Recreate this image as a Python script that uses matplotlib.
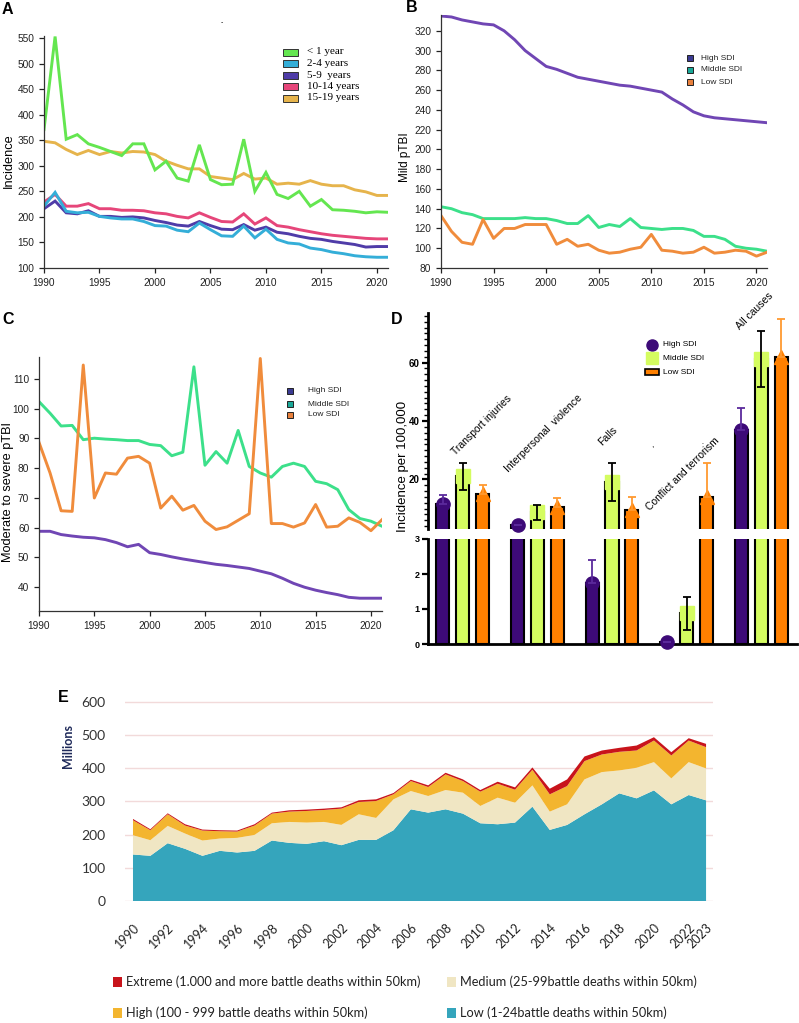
import numpy as np
import matplotlib
matplotlib.use("Agg")
import matplotlib.pyplot as plt
from matplotlib.patches import Rectangle
from matplotlib.lines import Line2D
from matplotlib.ticker import MultipleLocator

plt.rcParams['font.family'] = ['Liberation Sans', 'DejaVu Sans']

years = np.arange(1990, 2022)

# ---- panel A: incidence by age group
a_lt1 = [371, 553, 352, 361, 343, 336, 328, 320, 343, 343, 292, 309, 276, 270, 341, 273,
         263, 264, 352, 250, 287, 244, 236, 250, 221, 234, 214, 213, 211, 208, 210, 209]
a_2_4 = [221, 248, 211, 208, 209, 201, 198, 196, 196, 191, 183, 182, 174, 171, 188, 175,
         163, 162, 182, 159, 176, 156, 149, 147, 139, 136, 131, 128, 124, 122, 121, 121]
a_5_9 = [216, 231, 208, 206, 212, 201, 201, 199, 200, 198, 193, 189, 184, 182, 191, 183,
         176, 175, 185, 174, 180, 170, 167, 162, 158, 156, 152, 149, 146, 141, 142, 142]
a_10_14 = [229, 244, 221, 221, 226, 216, 216, 213, 213, 212, 208, 206, 201, 198, 208, 199,
           191, 190, 206, 186, 198, 183, 180, 175, 171, 167, 164, 162, 160, 158, 157, 157]
a_15_19 = [348, 345, 332, 322, 330, 322, 328, 325, 328, 327, 322, 309, 301, 294, 294, 279,
           276, 273, 285, 274, 276, 264, 266, 264, 271, 264, 261, 261, 253, 249, 242, 242]
a_labels = ["< 1 year", "2-4 years", "5-9  years", "10-14 years", "15-19 years"]
a_colors = ['#64e650', '#34aed8', '#4f3ca8', '#e6467a', '#e6b44c']

# ---- panel B: mild pTBI by SDI
b_high = [335, 334, 331, 329, 327, 326, 320, 311, 300, 292, 284, 281, 277, 273, 271, 269,
          267, 265, 264, 262, 260, 258, 251, 245, 238, 234, 232, 231, 230, 229, 228, 227]
b_mid = [142, 140, 136, 134, 130, 130, 130, 130, 131, 130, 130, 128, 125, 125, 133, 121,
         124, 122, 130, 121, 120, 119, 120, 120, 118, 112, 112, 109, 102, 100, 99, 97]
b_low = [133, 117, 106, 104, 129, 110, 120, 120, 124, 124, 124, 104, 109, 102, 104, 98,
         95, 96, 99, 101, 114, 98, 97, 95, 96, 101, 95, 96, 98, 97, 92, 96]

# ---- panel C: moderate to severe pTBI by SDI
c_high = [58.8, 58.8, 57.7, 57.2, 56.8, 56.6, 56.0, 55.0, 53.6, 54.4, 51.6, 51.0, 50.2, 49.5,
          48.9, 48.3, 47.7, 47.3, 46.8, 46.3, 45.4, 44.5, 43.0, 41.3, 40.0, 39.0, 38.2, 37.5,
          36.6, 36.3, 36.3, 36.3]
c_mid = [102.4, 98.5, 94.2, 94.4, 89.6, 90.1, 89.8, 89.6, 89.3, 89.3, 88.0, 87.6, 84.2, 85.4,
         114.1, 81.0, 85.6, 81.7, 92.7, 80.6, 78.4, 77.0, 80.6, 81.7, 80.6, 75.6, 74.8, 72.8,
         66.1, 63.1, 62.2, 60.5]
c_low = [88.7, 78.4, 65.7, 65.5, 114.7, 70.0, 78.4, 78.0, 83.4, 84.0, 81.7, 66.6, 70.6, 65.9,
         67.5, 62.2, 59.4, 60.3, 62.5, 64.7, 116.9, 61.4, 61.4, 60.2, 61.6, 67.8, 60.2, 60.5,
         63.3, 61.8, 59.0, 62.7]
sdi_labels = ["High SDI", "Middle SDI", "Low SDI"]
sdi_line_colors = ['#7046b4', '#3ce08a', '#f08c3c']
sdi_key_colors = ['#3b3b93', '#1aa898', '#e8803c']

# ---- panel D: incidence per 100,000 by cause
causes = ["Transport injuries", "Interpersonal  violence", "Falls",
          "Conflict and terrorism", "All causes"]
d_high = [11.5, 4.5, 1.75, 0.05, 37.0]
d_high_err = [3.0, 0.0, 0.65, 0.0, 7.5]
d_mid = [21.0, 8.75, 19.25, 0.875, 61.2]
d_mid_err = [4.7, 2.55, 6.5, 0.475, 9.5]
d_low = [15.0, 10.5, 9.5, 14.0, 62.0]
d_low_err = [3.0, 3.0, 4.3, 11.5, 13.0]
d_colors = ['#3d0a78', '#d4fc60', '#ff8000']
d_err_colors = ['#5b2a9c', 'black', '#ff9a30']

# ---- panel E: population exposed to conflict (millions)
e_years = np.arange(1990, 2024)
e_low = [140, 136, 174, 157, 136, 151, 146, 151, 182, 175, 172, 180, 168, 184, 184, 213, 276,
         266, 276, 263, 234, 231, 236, 284, 214, 229, 261, 291, 324, 309, 333, 291, 319, 303]
e_medium = [58, 47, 52, 46, 46, 37, 44, 48, 52, 63, 64, 58, 61, 77, 66, 93, 55,
            50, 58, 63, 52, 80, 60, 64, 55, 62, 105, 97, 69, 92, 85, 78, 99, 96]
e_high = [45, 30, 35, 24, 30, 22, 19, 28, 29, 31, 35, 36, 49, 37, 51, 15, 30,
          27, 47, 35, 43, 42, 39, 47, 52, 55, 55, 53, 56, 52, 65, 69, 65, 64]
e_extreme = [4, 3, 3, 4, 3, 3, 3, 4, 3, 4, 4, 4, 4, 5, 5, 4, 4,
             5, 5, 5, 5, 6, 7, 7, 17, 20, 14, 12, 12, 15, 10, 10, 7, 10]
e_labels = ["Extreme (1.000 and more battle deaths within 50km)",
            "High (100 - 999 battle deaths within 50km)",
            "Medium (25-99battle deaths within 50km)",
            "Low (1-24battle deaths within 50km)"]
e_colors = ['#c8141b', '#f3b52f', '#f0e6c3', '#35a5bc']

W, H = 799, 1023
fig = plt.figure(figsize=(W / 100, H / 100), dpi=100)


def box(l, t, r, b):
    return [l / W, 1 - b / H, (r - l) / W, (b - t) / H]


def fx(px):
    return px / W


def fy(py):
    return 1 - py / H


def line_axes(ax, ylo, yhi, ystep):
    ax.set_xlim(1990, 2021)
    ax.set_ylim(ylo, yhi)
    ax.set_xticks(np.arange(1990, 2021, 5))
    ax.set_yticks(np.arange(ystep * np.ceil(ylo / ystep), yhi, ystep))
    for s in ('top', 'right'):
        ax.spines[s].set_visible(False)
    for s in ('left', 'bottom'):
        ax.spines[s].set_color('#333333')
        ax.spines[s].set_linewidth(0.9)
    ax.tick_params(labelsize=7.3, colors='#222222', length=3.5, width=0.9)


# ---------------- A
axA = fig.add_axes(box(44, 36, 388, 268))
# draw order: orange, pink, purple, blue, green on top
for vals, col in [(a_15_19, a_colors[4]), (a_10_14, a_colors[3]), (a_5_9, a_colors[2]),
                  (a_2_4, a_colors[1]), (a_lt1, a_colors[0])]:
    axA.plot(years, vals, color=col, lw=2.1, solid_joinstyle='miter')
line_axes(axA, 100, 554, 50)
fig.text(fx(9), fy(161), "Incidence", rotation=90, ha='center', va='center', fontsize=9.2)
for i, (lab, col) in enumerate(zip(a_labels, a_colors)):
    yc = 52 + i * 11.5
    fig.add_artist(Rectangle((fx(283), fy(yc + 3.5)), 15 / W, 7 / H, transform=fig.transFigure,
                             facecolor=col, edgecolor='#333333', lw=0.7))
    fig.text(fx(307), fy(yc), lab, ha='left', va='center', fontsize=8,
             family=['Liberation Serif', 'DejaVu Serif'])
fig.text(fx(222), fy(23), "-", fontsize=5, ha='center', va='center')


def sdi_key(x_sq, x_txt, ys):
    for lab, col, yc in zip(sdi_labels, sdi_key_colors, ys):
        fig.add_artist(Rectangle((fx(x_sq), fy(yc + 3)), 6 / W, 6 / H, transform=fig.transFigure,
                                 facecolor=col, edgecolor='#222222', lw=0.7))
        fig.text(fx(x_txt), fy(yc), lab, ha='left', va='center', fontsize=6, color='#222222')


# ---------------- B
axB = fig.add_axes(box(441, 15, 767, 268))
for vals, col in zip([b_high, b_mid, b_low], sdi_line_colors):
    axB.plot(years, vals, color=col, lw=2.1)
line_axes(axB, 80, 336, 20)
fig.text(fx(405), fy(157), "Mild pTBI", rotation=90, ha='center', va='center', fontsize=8.5)
sdi_key(687, 701, [58, 70, 82])

# ---------------- C
axC = fig.add_axes(box(39, 357, 382, 611))
for vals, col in zip([c_high, c_mid, c_low], sdi_line_colors):
    axC.plot(years, vals, color=col, lw=2.1)
line_axes(axC, 32, 117.4, 10)
fig.text(fx(8), fy(492), "Moderate to severe pTBI", rotation=90, ha='center', va='center',
         fontsize=9.2)
sdi_key(287, 308, [391, 404, 415])

# ---------------- D (broken axis)
axDu = fig.add_axes(box(428, 313, 797, 529))
axDl = fig.add_axes(box(428, 539, 797, 644))
xg = np.arange(len(causes))
off, bw = 0.267, 0.175
series = [(d_high, d_high_err, 'o', False), (d_mid, d_mid_err, 's', True),
          (d_low, d_low_err, '^', False)]
for ax, lo, hi in [(axDu, 3, 77), (axDl, 0, 3)]:
    ax.set_xlim(-0.467, 4.48)
    ax.set_ylim(lo, hi)
    for k, (vals, errs, mk, sym) in enumerate(series):
        vals = np.array(vals)
        errs = np.array(errs)
        xs = xg + (k - 1) * off
        ax.bar(xs, vals, width=bw, color=d_colors[k], edgecolor='black', lw=1.5, zorder=2)
        lower = errs if sym else np.zeros_like(errs)
        ax.errorbar(xs, vals, yerr=[lower, errs], fmt='none', ecolor=d_err_colors[k],
                    elinewidth=1.3, capsize=3.2, capthick=1.3, zorder=4)
        m = (vals >= lo) & (vals < hi)
        ax.plot(xs[m], vals[m], ls='none', marker=mk, ms=9.5, color=d_colors[k],
                mec=d_colors[k], zorder=3, clip_on=False)
    ax.set_xticks([])
    for s in ('top', 'right'):
        ax.spines[s].set_visible(False)
    ax.spines['left'].set_linewidth(2)
    ax.tick_params(axis='y', labelsize=7, width=1.6, length=4, pad=2)
axDu.spines['bottom'].set_visible(False)
axDu.set_yticks([20, 40, 60])
axDu.yaxis.set_minor_locator(MultipleLocator(2))
axDu.tick_params(axis='y', which='minor', length=3, width=1)
axDl.set_yticks([0, 1, 2, 3])
axDl.spines['bottom'].set_linewidth(2)
for ax in (axDu, axDl):
    for t in ax.get_yticklabels():
        t.set_fontweight('bold')
        t.set_fontsize(7 if ax is axDu else 6.5)

cause_pos = [(-0.08, 27.6), (0.627, 22.0), (1.893, 31.0), (2.533, 8.6), (3.733, 70.7)]
for lab, (px, py) in zip(causes, cause_pos):
    axDu.text(px, py, lab, rotation=45, rotation_mode='anchor', ha='left', va='bottom',
              fontsize=7.5, clip_on=False)
fig.text(fx(652), fy(446), ",", fontsize=6, ha='center', va='center')
fig.text(fx(703), fy(444), "-", fontsize=4, ha='center', va='center')
fig.text(fx(403), fy(466), "Incidence per 100,000", rotation=90, ha='center', va='center',
         fontsize=9.5)
# legend D
fig.add_artist(Line2D([fx(652)], [fy(345)], marker='o', ms=8, color=d_colors[0], ls='none',
                      transform=fig.transFigure))
fig.add_artist(Line2D([fx(652)], [fy(358)], marker='s', ms=8, color=d_colors[1], ls='none',
                      transform=fig.transFigure))
fig.add_artist(Rectangle((fx(645), fy(375)), 14 / W, 6 / H, transform=fig.transFigure,
                         facecolor=d_colors[2], edgecolor='black', lw=1.2))
for lab, yc in zip(sdi_labels, [345, 358, 372]):
    fig.text(fx(663), fy(yc), lab, ha='left', va='center', fontsize=6)

# panel letters
for lab, px, py in [("A", 7, 9), ("B", 412, 8), ("C", 8, 320), ("D", 397, 320), ("E", 63, 698)]:
    fig.text(fx(px), fy(py), lab, ha='center', va='center', fontsize=11.5, fontweight='bold')

# ---------------- E
axE = fig.add_axes(box(125, 700, 713, 901))
axE.stackplot(e_years, e_low, e_medium, e_high, e_extreme,
              colors=[e_colors[3], e_colors[2], e_colors[1], e_colors[0]], lw=0, zorder=2)
axE.set_xlim(1989.54, 2023.4)
axE.set_ylim(0, 605)
axE.set_yticks(np.arange(0, 601, 100))
axE.yaxis.grid(True, color='#f2dada', lw=1)
axE.set_axisbelow(True)
for s in axE.spines.values():
    s.set_visible(False)
xt = list(range(1990, 2023, 2)) + [2023]
axE.set_xticks(xt)
axE.set_xticklabels([str(y) for y in xt], rotation=45, rotation_mode='anchor', ha='right',
                    va='top', family=['Lato', 'DejaVu Sans'], fontsize=9, color='#222222')
axE.tick_params(axis='x', length=0, pad=15)
axE.tick_params(axis='y', length=0, pad=14, labelsize=10, labelcolor='#333333')
for t in axE.get_yticklabels():
    t.set_family(['Lato', 'DejaVu Sans'])
fig.text(fx(68), fy(746), "Millions", rotation=90, ha='center', va='center', fontsize=9,
         fontweight='bold', color='#1f2a5a', family=['Lato', 'DejaVu Sans'])
for lab, col, (px, py) in zip(e_labels, e_colors, [(113, 982), (113, 1013), (447, 982), (447, 1013)]):
    fig.add_artist(Rectangle((fx(px), fy(py + 5)), 9 / W, 10 / H, transform=fig.transFigure,
                             facecolor=col, edgecolor='none'))
    fig.text(fx(px + 13), fy(py), lab, ha='left', va='center', fontsize=9.2, color='#222222',
             family=['Lato', 'DejaVu Sans'])

fig.savefig("out.png", dpi=100)
